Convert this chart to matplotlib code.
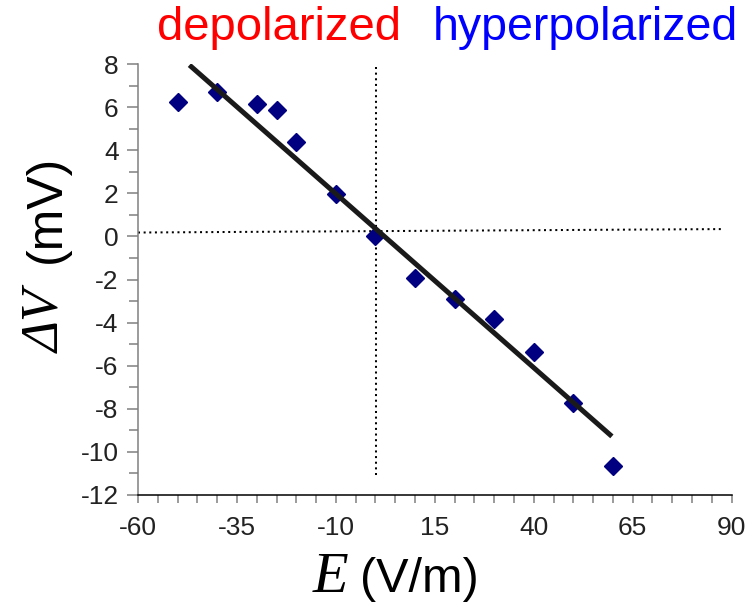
import matplotlib
matplotlib.use("Agg")
import matplotlib.pyplot as plt
import numpy as np

# ---- data ----
E_vals = [-50, -40, -30, -25, -20, -10, 0, 10, 20, 30, 40, 50, 60]
dV_vals = [6.25, 6.71, 6.13, 5.87, 4.39, 1.97, 0.0, -1.95, -2.90, -3.83, -5.38, -7.71, -10.65]
fit_x = [-47.0, 59.75]
fit_y = [7.95, -9.28]
hguide_x = [-60.0, 88.0]
hguide_y = [0.18, 0.34]
vguide_x = [0.2, 0.2]
vguide_y = [7.86, -11.15]
xticks = [-60, -35, -10, 15, 40, 65, 90]
yticks = [8, 6, 4, 2, 0, -2, -4, -6, -8, -10, -12]

SANS = "Liberation Sans"
SERIF = "Liberation Serif"

W, H = 754, 606
fig = plt.figure(figsize=(W / 100, H / 100), dpi=100)
ax = fig.add_axes([138 / W, 111 / H, (731.6 - 138) / W, (495 - 64) / H])

ax.set_xlim(-60, 90)
ax.set_ylim(-12, 8)

# guide lines
dot = (0, (1.0, 1.8))
ax.plot(hguide_x, hguide_y, color="black", lw=1.45, linestyle=dot, zorder=1, clip_on=False)
ax.plot(vguide_x, vguide_y, color="black", lw=1.45, linestyle=dot, zorder=1, clip_on=False)

# data points
ax.plot(E_vals, dV_vals, linestyle="none", marker="D", markersize=9.5,
        color="#000080", markeredgecolor="#000080", zorder=2, clip_on=False)

# fit line
ax.plot(fit_x, fit_y, color="#1a1a1a", lw=3.6, solid_capstyle="butt", zorder=3)

# spines
for s in ["top", "right"]:
    ax.spines[s].set_visible(False)
ax.spines["left"].set_color("#808080")
ax.spines["left"].set_linewidth(1.1)
ax.spines["bottom"].set_color("black")
ax.spines["bottom"].set_linewidth(1.1)

ax.set_xticks(xticks)
ax.set_xticklabels([str(v) for v in xticks])
ax.set_xticks(np.arange(-60, 91, 5), minor=True)
ax.set_yticks(yticks)
ax.set_yticklabels([str(v) for v in yticks])
ax.set_yticks(np.arange(-12, 9, 1), minor=True)

ax.tick_params(axis="x", which="major", direction="out", length=6, width=1.1,
               color="#808080", pad=9, labelsize=19, labelcolor="#222222")
ax.tick_params(axis="x", which="minor", direction="out", length=6, width=1.1,
               color="#808080")
ax.tick_params(axis="y", which="major", direction="out", length=8, width=1.1,
               color="#808080", pad=6, labelsize=19, labelcolor="#222222")
ax.tick_params(axis="y", which="minor", direction="out", length=6.3, width=1.1,
               color="#808080")
for lab in ax.get_xticklabels() + ax.get_yticklabels():
    lab.set_fontfamily(SANS)

# axis labels
def px(x, y):
    return x / W, 1 - y / H

fig.text(*px(313, 592), "E", fontsize=42, family=SERIF, style="italic",
         ha="left", va="baseline", color="black")
fig.text(*px(360, 592), "(V/m)", fontsize=35, family=SANS,
         ha="left", va="baseline", color="black")

fig.text(*px(59, 353), "ΔV", fontsize=38, family=SERIF, style="italic",
         rotation=90, rotation_mode="anchor", ha="left", va="baseline", color="black")
fig.text(*px(60, 263), "(mV)", fontsize=36, family=SANS,
         rotation=90, rotation_mode="anchor", ha="left", va="baseline", color="black")

# header words
fig.text(*px(157, 40), "depolarized", fontsize=34, family=SANS, color="#ff0000",
         ha="left", va="baseline")
fig.text(*px(433, 40), "hyperpolarized", fontsize=33.5, family=SANS, color="#0000ff",
         ha="left", va="baseline")

fig.savefig("out.png", dpi=100)
